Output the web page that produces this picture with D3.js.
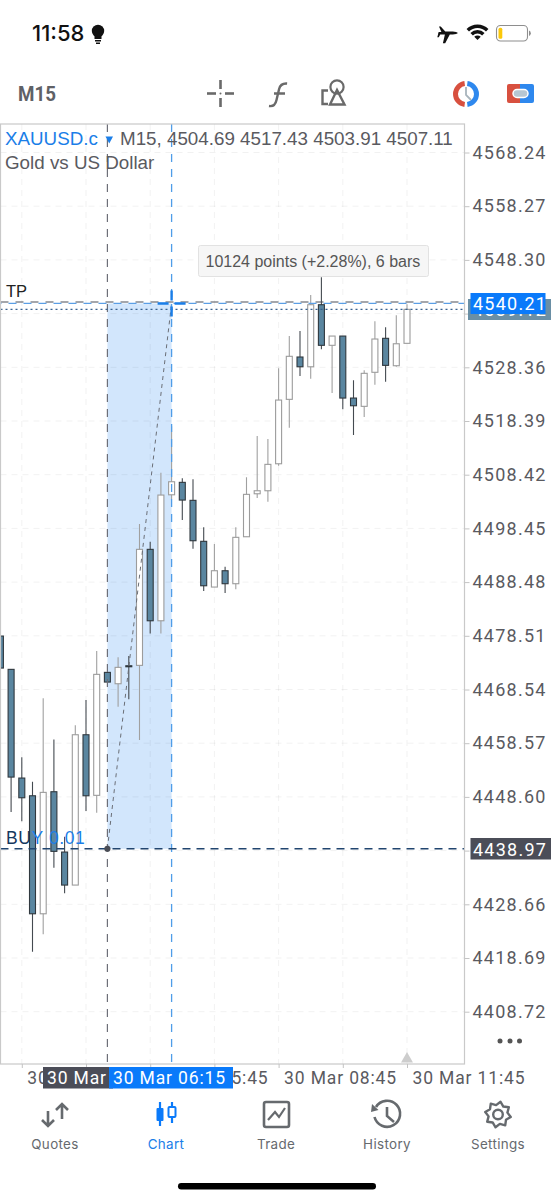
<!DOCTYPE html>
<html><head><meta charset="utf-8">
<script src="https://cdn.jsdelivr.net/npm/d3@7/dist/d3.min.js"></script>
<style>html,body{margin:0;background:#fff}svg{display:block}text{font-family:"Liberation Sans",Arial,sans-serif}</style>
</head><body><div id="c"></div>
<script>
// ---- data ----
const opens  = [4478.46,4472.28,4452.10,4448.81,4426.90,4449.56,4438.36,4432.23,4460.14,4448.89,4471.72,4469.61,4472.95,4473.02,4494.56,4481.30,4504.69,4507.00,4503.66,4496.05,4487.56,4490.59,4488.18,4496.90,4504.88,4505.44,4510.45,4522.41,4530.27,4528.46,4539.98,4532.44,4534.16,4522.65,4521.11,4527.43,4533.74,4528.65,4532.81];
const highs  = [4478.46,4472.28,4455.94,4451.41,4466.90,4459.28,4441.20,4461.88,4466.58,4475.68,4471.72,4474.51,4474.75,4499.26,4495.97,4508.78,4517.43,4507.74,4507.56,4498.65,4495.55,4491.33,4498.65,4507.93,4515.60,4515.04,4528.17,4534.16,4535.09,4541.78,4545.06,4534.16,4534.16,4525.94,4527.80,4536.89,4535.78,4538.01,4540.05];
const lows   = [4472.52,4445.79,4444.06,4419.85,4423.08,4435.45,4430.69,4432.23,4445.97,4445.66,4469.92,4465.34,4466.71,4459.15,4478.96,4478.96,4503.91,4500.00,4494.67,4486.82,4487.56,4486.45,4487.13,4496.90,4504.09,4503.40,4510.08,4517.14,4526.74,4526.24,4531.70,4523.58,4520.56,4515.78,4519.13,4525.12,4525.68,4528.46,4532.81];
const closes = [4472.52,4452.28,4448.44,4426.90,4449.44,4438.49,4432.23,4460.14,4448.81,4471.35,4469.92,4472.65,4472.76,4494.56,4481.30,4504.64,4507.11,4503.71,4496.16,4487.80,4490.59,4488.18,4496.79,4504.77,4505.44,4510.34,4522.28,4530.40,4528.46,4539.98,4532.44,4534.16,4522.65,4521.22,4527.24,4533.61,4528.72,4532.73,4539.12];
const priceTicks = [4568.24,4558.27,4548.30,4538.33,4528.36,4518.39,4508.42,4498.45,4488.48,4478.51,4468.54,4458.57,4448.60,4438.63,4428.66,4418.69,4408.72];
const hiddenPriceTicks = [4538.33,4438.63];
const gridBars = [2,8,14,20,26,32,38];
const labelBars = [2,14,26,38];
const timeLabels = ["30 Mar 02:45","30 Mar 05:45","30 Mar 08:45","30 Mar 11:45"];
const buyPrice = 4438.97, tpPrice = 4540.48, crossPrice = 4540.21, lastPrice = 4539.12;
const startBar = 10, crossBar = 16;
const startLabel = "30 Mar 04:45", crossLabel = "30 Mar 06:15";
const tabs = ["Quotes","Chart","Trade","History","Settings"];

const W=554,H=1200, L=0.5,R=464.5,T=124,B=1064;
const BLUE="#1a7ee8", GREY="#5a5a5f";
const x=d3.scaleLinear().domain([0,38]).range([0.4,407]);
const y=d3.scaleLinear().domain([4408.72,4568.24]).range([1011.7,152.5]);
const svg=d3.select("#c").append("svg").attr("width",W).attr("height",H).attr("viewBox",`0 0 ${W} ${H}`);
svg.append("rect").attr("width",W).attr("height",H).attr("fill","#fff");
svg.append("clipPath").attr("id","plot").append("rect").attr("x",L).attr("y",T).attr("width",R-L).attr("height",B-T);

const ln=(g,x1,y1,x2,y2,c,w,d)=>g.append("line").attr("x1",x1).attr("y1",y1).attr("x2",x2).attr("y2",y2).attr("stroke",c).attr("stroke-width",w).attr("stroke-dasharray",d||null);
const tx=(g,s,px,py,size,fill,o={})=>g.append("text").text(s).attr("x",px).attr("y",py).attr("font-size",size).attr("fill",fill)
  .attr("text-anchor",o.anchor||"start").attr("font-weight",o.weight||400).attr("letter-spacing",o.ls||null).style("font-family",o.font||null);

// ---- plot ----
const plot=svg.append("g").attr("clip-path","url(#plot)");
// measurement band
plot.append("rect").attr("x",x(startBar)).attr("y",y(crossPrice)).attr("width",x(crossBar)-x(startBar)).attr("height",y(buyPrice)-y(crossPrice)).attr("fill","#d2e6fc");
// grid
plot.append("g").selectAll("line").data(priceTicks).join("line").attr("x1",L).attr("x2",R).attr("y1",d=>y(d)).attr("y2",d=>y(d)).attr("stroke","#000").attr("stroke-opacity",.055).attr("stroke-dasharray","6 5");
plot.append("g").selectAll("line").data(gridBars).join("line").attr("x1",d=>x(d)).attr("x2",d=>x(d)).attr("y1",T).attr("y2",B).attr("stroke","#000").attr("stroke-opacity",.055).attr("stroke-dasharray","6 5");

tx(plot,"TP",6,297,16.5,"#222");

// candles
const idx=d3.range(opens.length), up=i=>closes[i]>=opens[i], bw=6;
const cg=plot.append("g");
cg.selectAll("line").data(idx).join("line").attr("x1",i=>x(i)).attr("x2",i=>x(i)).attr("y1",i=>y(highs[i])).attr("y2",i=>y(lows[i]))
  .attr("stroke",i=>up(i)?"#a0a0a0":"#444a50").attr("stroke-width",1.1);
cg.selectAll("rect").data(idx).join("rect").attr("x",i=>x(i)-bw/2).attr("width",bw)
  .attr("y",i=>y(Math.max(opens[i],closes[i]))).attr("height",i=>Math.max(1,Math.abs(y(opens[i])-y(closes[i]))))
  .attr("fill",i=>up(i)?"#fff":"#5a86a0").attr("stroke",i=>up(i)?"#9c9c9c":"#30383e").attr("stroke-width",1.1);

// trade label sits over the candles
const buyT=plot.append("text").attr("x",6).attr("y",y(buyPrice)-4.5).attr("font-size",17.5).attr("letter-spacing",.6);
buyT.append("tspan").attr("fill","#15385e").text("BU");
buyT.append("tspan").attr("fill",BLUE).text("Y 0.01");

// measure + level lines
ln(plot,x(startBar),y(buyPrice),x(crossBar),y(crossPrice),"#6a6e76",1,"4 4");
ln(plot,x(startBar),T,x(startBar),B,"#6d6f78",1.2,"8 7");
ln(plot,x(crossBar),T,x(crossBar),B,"#4f9de8",1.3,"8 7");
ln(plot,L,y(buyPrice),R,y(buyPrice),"#21456f",1.4,"8 6");
ln(plot,L,y(tpPrice),R,y(tpPrice),"#4a4f58",1.1,"8 7");
ln(plot,L,y(crossPrice),R,y(crossPrice),"#5b9fe6",1.2,"8 7").attr("stroke-dashoffset",7);
ln(plot,L,y(lastPrice),R,y(lastPrice),"#38618f",1.2,"2 3");
plot.append("circle").attr("cx",x(startBar)).attr("cy",y(buyPrice)).attr("r",3.1).attr("fill","#4a4d55");
// crosshair
const cx=x(crossBar),cy=y(crossPrice);
ln(plot,cx-14,cy,cx-3,cy,BLUE,2.4);ln(plot,cx+3,cy,cx+14,cy,BLUE,2.4);
ln(plot,cx,cy-13,cx,cy-3,BLUE,2.4);ln(plot,cx,cy+3,cx,cy+13,BLUE,2.4);

// border
svg.append("rect").attr("x",L).attr("y",T).attr("width",R-L).attr("height",B-T).attr("fill","none").attr("stroke","#c9c9c9").attr("stroke-width",1.2);

// axes
const yAxis=d3.axisRight(y).tickValues(priceTicks).tickFormat(d3.format(".2f")).tickSize(5).tickPadding(3);
const ya=svg.append("g").attr("transform",`translate(${R},0)`).call(yAxis);
ya.select(".domain").remove();
ya.selectAll(".tick line").attr("stroke","#c4c4c4");
ya.selectAll("text").attr("font-size",18).attr("fill",GREY).attr("letter-spacing",1.25).style("font-family","Roboto");
ya.selectAll(".tick").filter(d=>hiddenPriceTicks.includes(d)).select("text").remove();

const xAxis=d3.axisBottom(x).tickValues(gridBars).tickFormat(d=>{const k=labelBars.indexOf(d);return k<0?"":timeLabels[k]}).tickSize(4);
const xa=svg.append("g").attr("transform",`translate(0,${B})`).call(xAxis);
xa.select(".domain").remove();
xa.selectAll(".tick line").attr("stroke","#c4c4c4");
xa.selectAll("text").attr("font-size",17.5).attr("fill",GREY).attr("letter-spacing",.85).attr("text-anchor","start").attr("x",5).attr("y",7).attr("dy","0.72em").style("font-family","Roboto");

// marker triangle
svg.append("path").attr("d",d3.symbol(d3.symbolTriangle,62)()).attr("transform",`translate(${x(38)},${B-5})`).attr("fill","#cdcdcd");

// right labels
const rl=svg.append("g");
rl.append("rect").attr("x",468).attr("y",299).attr("width",83).attr("height",21).attr("fill","#6a8fa5");
tx(rl,d3.format(".2f")(lastPrice),473,y(lastPrice)+6.5,18,"#fff",{ls:1.25,font:"Roboto"});
rl.append("rect").attr("x",470.5).attr("y",293).attr("width",75).attr("height",21).attr("fill","#0a7afa");
tx(rl,d3.format(".2f")(crossPrice),473,310,18,"#fff",{ls:1.25,font:"Roboto"});
rl.append("rect").attr("x",470.5).attr("y",838).attr("width",80.5).attr("height",21.5).attr("fill","#4b4d58");
tx(rl,d3.format(".2f")(buyPrice),473,855.5,18,"#fff",{ls:1.25,font:"Roboto"});

// time labels
rl.append("rect").attr("x",43).attr("y",1067).attr("width",70).attr("height",21.5).attr("fill","#4b4d58");
tx(rl,startLabel,47,1084,17.5,"#fff",{ls:.85,font:"Roboto"});
rl.append("rect").attr("x",109).attr("y",1067).attr("width",124).attr("height",21.5).attr("fill","#0a7afa");
tx(rl,crossLabel,113,1084,17.5,"#fff",{ls:.85,font:"Roboto"});

// tooltip
const tt=svg.append("g");
tt.append("rect").attr("x",198.5).attr("y",245.5).attr("width",230).attr("height",31).attr("rx",2).attr("fill","#f6f6f6").attr("stroke","#e2e2e2");
tx(tt,"10124 points (+2.28%), 6 bars",205.5,266.5,16,"#555");

// header
tx(svg,"XAUUSD.c",5,145,18.8,BLUE);
svg.append("path").attr("d","M105.5,136.5h7.5l-3.75,7z").attr("fill",BLUE);
tx(svg,"M15, 4504.69 4517.43 4503.91 4507.11",120,145,18.8,GREY);
tx(svg,"Gold vs US Dollar",5,169,18.8,GREY);

// three dots
svg.append("g").selectAll("circle").data([500,510,519.5]).join("circle").attr("cx",d=>d).attr("cy",1041).attr("r",2.5).attr("fill","#555");

// ---- status bar ----
const st=svg.append("g");
tx(st,"11:58",32,41,22,"#111",{weight:500,font:"Inter"});
st.append("circle").attr("cx",98).attr("cy",31).attr("r",6.2).attr("fill","#111");
st.append("path").attr("d","M94.5,35h7v4h-7zM95,40h6v1.5h-6zM96,42.5h4v1.5h-4z").attr("fill","#111");
st.append("path").attr("d","M438,33 l1,-.9 h2.4 l-2.4,-5.6 h1.7 l4.6,4.9 h7.5 q4,.2 5.2,1.6 q-1.2,1.4 -5.2,1.6 h-3 l-4.6,8.6 h-2.3 l2,-8.6 h-4.7 l-1.4,2.6 h-1.5 l1,-3.6z").attr("fill","#111");
const arcW=d3.arc().startAngle(-Math.PI/4).endAngle(Math.PI/4);
[[12,15.5],[6.5,10]].forEach(([a,b])=>st.append("path").attr("d",arcW({innerRadius:a,outerRadius:b})).attr("transform","translate(477.5,40)").attr("fill","#111"));
st.append("path").attr("d",arcW({innerRadius:0,outerRadius:4.6})).attr("transform","translate(477.5,40)").attr("fill","#111");
st.append("rect").attr("x",496.5).attr("y",25.5).attr("width",31).attr("height",15.5).attr("rx",4).attr("fill","none").attr("stroke","#8e8e8e").attr("stroke-width",1.1);
st.append("rect").attr("x",498.5).attr("y",27.8).attr("width",3.8).attr("height",11).attr("rx",1.5).attr("fill","#fbc80a");
st.append("path").attr("d","M529,30.5q1.8,.6 1.8,2.7t-1.8,2.7z").attr("fill","#8e8e8e");

// ---- toolbar ----
const tb=svg.append("g");
const m15=tx(tb,"M15",18,101,21,"#5f6166",{weight:700,font:"Roboto"});m15.attr("textLength",38).attr("lengthAdjust","spacingAndGlyphs");
const ic="#6a6a6a";
[[207,93.5,216,93.5],[225,93.5,234,93.5],[220.5,80,220.5,89],[220.5,98,220.5,107]].forEach(a=>ln(tb,a[0],a[1],a[2],a[3],ic,2.6));
tb.append("circle").attr("cx",220.5).attr("cy",93.5).attr("r",1).attr("fill",ic);
tb.append("path").attr("d","M269,106 q6,1 7.5,-6 l2.6,-11 q1.5,-6 8,-5.5 M274,93.5 H285").attr("fill","none").attr("stroke",ic).attr("stroke-width",2.4);
tb.append("circle").attr("cx",337).attr("cy",87).attr("r",6.6).attr("fill","none").attr("stroke",ic).attr("stroke-width",2.2);
tb.append("path").attr("d","M337,90 L330,104.5 H344.5 Z").attr("fill","none").attr("stroke",ic).attr("stroke-width",2.4);
tb.append("path").attr("d","M328,90.5 H322.5 V104 H328").attr("fill","none").attr("stroke",ic).attr("stroke-width",2.4);
const ring=(s,e,c)=>tb.append("path").attr("d",d3.arc().innerRadius(8).outerRadius(13).startAngle(s).endAngle(e)()).attr("transform","translate(466,94)").attr("fill",c);
ring(Math.PI*1.04,Math.PI*1.96,"#d8503f");ring(Math.PI*.04,Math.PI*.96,"#2e88ee");
tb.append("path").attr("d","M466,87 V95 L471,100").attr("fill","none").attr("stroke","#a8b4bc").attr("stroke-width",1.8);
tb.append("path").attr("d","M509,84 H520 V103 H509 a2,2 0 0 1 -2,-2 V86 a2,2 0 0 1 2,-2z").attr("fill","#d8503f");
tb.append("path").attr("d","M520,84 H532 a2,2 0 0 1 2,2 V101 a2,2 0 0 1 -2,2 H520z").attr("fill","#2e88ee");
tb.append("rect").attr("x",513).attr("y",89.5).attr("width",15).attr("height",8).attr("rx",4).attr("fill","#b6c6d2").attr("stroke","#fff").attr("stroke-width",1.5);

// ---- tab bar ----
const tab=svg.append("g");
const tc="#666a6e", centers=[55,166,276,387,498];
tabs.forEach((t,i)=>tx(tab,t,centers[i],1149,13.4,i==1?BLUE:tc,{anchor:"middle",ls:.35,font:"Inter"}));
tab.append("path").attr("d","M48,1111 V1126 M42,1120 L48,1126 L54,1120 M62,1119 V1104 M56,1110 L62,1104 L68,1110").attr("fill","none").attr("stroke",tc).attr("stroke-width",2.6);
ln(tab,160,1102,160,1126,"#0a7afa",2.2);
tab.append("rect").attr("x",156.5).attr("y",1108).attr("width",7).attr("height",13).attr("rx",1).attr("fill","#0a7afa");
ln(tab,172,1102,172,1123,"#0a7afa",2.2);
tab.append("rect").attr("x",168.5).attr("y",1107).attr("width",7).attr("height",10).attr("rx",1).attr("fill","#fff").attr("stroke","#0a7afa").attr("stroke-width",2);
tab.append("rect").attr("x",264).attr("y",1102).attr("width",25).attr("height",25).attr("rx",2).attr("fill","none").attr("stroke",tc).attr("stroke-width",2.6);
tab.append("path").attr("d","M268,1120 L275,1112 L279,1117 L285,1108").attr("fill","none").attr("stroke",tc).attr("stroke-width",2.2);
tab.append("path").attr("d","M376,1107 A13,13 0 1 1 374.5,1117").attr("fill","none").attr("stroke",tc).attr("stroke-width",2.6);
tab.append("path").attr("d","M372,1104 L378.5,1110 L371,1112z").attr("fill",tc);
tab.append("path").attr("d","M387,1107 V1116 L394,1122").attr("fill","none").attr("stroke",tc).attr("stroke-width",2.6);
const gear=d3.range(0,16).map(k=>{const a=k*Math.PI/8+Math.PI/16,r=k%2?9.6:13;return [Math.sin(a)*r,-Math.cos(a)*r]});
tab.append("path").attr("d",d3.line().curve(d3.curveLinearClosed)(gear)).attr("transform","translate(498,1114.5)").attr("fill","none").attr("stroke",tc).attr("stroke-width",2.4).attr("stroke-linejoin","round");
tab.append("circle").attr("cx",498).attr("cy",1114.5).attr("r",4.8).attr("fill","none").attr("stroke",tc).attr("stroke-width",2.4);
tab.append("rect").attr("x",178).attr("y",1183).attr("width",198).attr("height",6.5).attr("rx",3.2).attr("fill","#000");
</script></body></html>
